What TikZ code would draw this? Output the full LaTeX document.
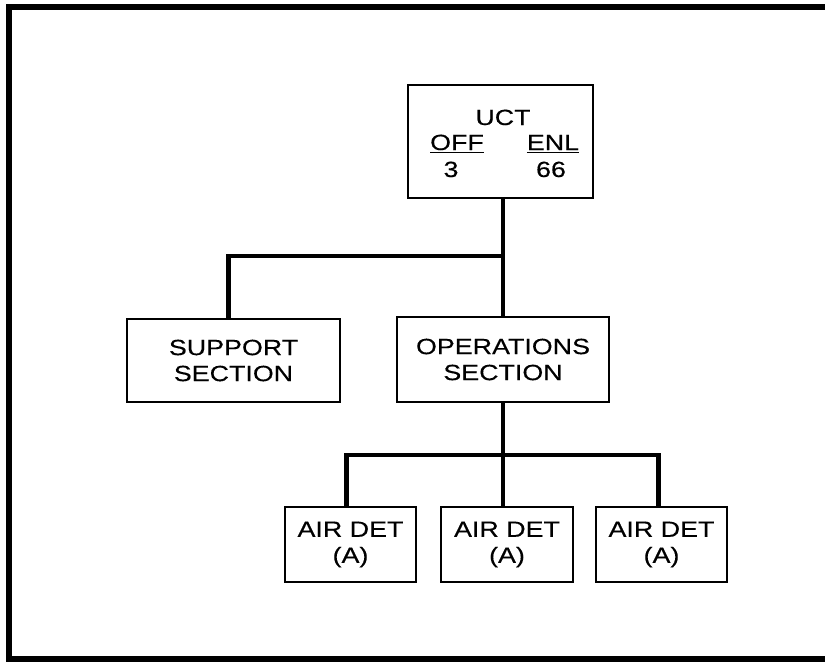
\documentclass[tikz,border=0pt]{standalone}
\usepackage{fontspec}
\setmainfont[FakeStretch=1.22,FakeBold=0.3]{Liberation Sans}
\usetikzlibrary{positioning}

\tikzset{
  unitbox/.style={draw, line width=1.6pt, fill=white, inner sep=0pt, align=center,
    font=\fontsize{16.5}{19.5}\selectfont},
  link/.style={line width=3.6pt, line cap=rect},
  frame/.style={line width=4pt},
  lbl/.style={anchor=base, inner sep=0pt, font=\fontsize{16.5}{19.5}\selectfont}
}

\begin{document}
\begin{tikzpicture}[x=0.75pt,y=0.75pt,yscale=-1,xscale=1]
			\useasboundingbox (0,0) rectangle (825,661);
			\fill[white] (0,0) rectangle (825,661);
			\draw[frame] (825,7) -- (9,7) -- (9,659) -- (825,659);
			% junction points of the connectors
			\coordinate (hub) at (503,256);
			\coordinate (opshub) at (503,455);
			% boxes
			\node[unitbox, minimum width=138.75pt, minimum height=84.75pt] (uct) at (500.5,141.5) {};
			\node[unitbox, minimum width=159.75pt, minimum height=62.25pt] (sup) at (233.5,360.5) {SUPPORT\\SECTION};
			\node[unitbox, minimum width=159pt, minimum height=63.75pt] (ops) at (503,359.5) {OPERATIONS\\SECTION};
			\node[unitbox, minimum width=98.25pt, minimum height=56.25pt] (airA) at (350.5,544.5) {AIR DET\\(A)};
			\node[unitbox, minimum width=99pt, minimum height=56.25pt] (airB) at (507,544.5) {AIR DET\\(A)};
			\node[unitbox, minimum width=98.25pt, minimum height=56.25pt] (airC) at (661.5,544.5) {AIR DET\\(A)};
			% texts of the unit box
			\node[lbl] (uctname) at (503,125) {UCT};
			\node[lbl] (offhead) at (457,150) {\underline{OFF}};
			\node[lbl] (enlhead) at (553,150) {\underline{ENL}};
			\node[lbl] (offnum) at (451,177) {3};
			\node[lbl] (enlnum) at (551,177) {66};
			% connectors
			\draw[link] (uct.south -| hub) -- (ops.north -| hub);
			\draw[link] (hub) -| ([xshift=-4pt]sup.north);
			\draw[link] (ops.south -| opshub) -- (opshub);
			\draw[link] ([xshift=-3pt]airA.north) |- ([xshift=-2pt]airC.north |- opshub) -- ([xshift=-2pt]airC.north);
			\draw[link] ([xshift=-3pt]airB.north) -- ([xshift=-3pt]airB.north |- opshub);
\end{tikzpicture}
\end{document}
